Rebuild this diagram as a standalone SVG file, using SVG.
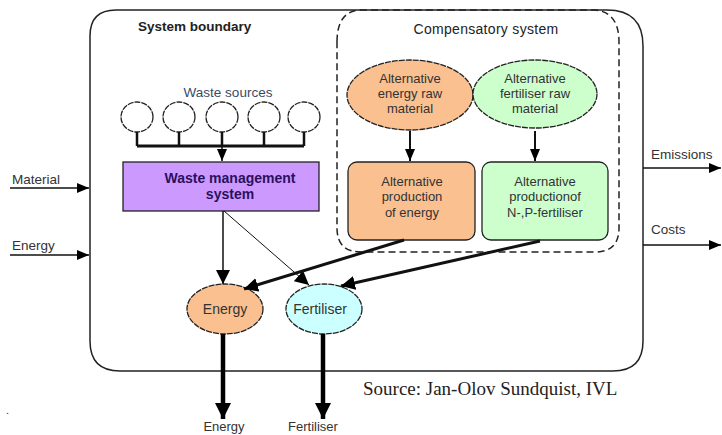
<svg xmlns="http://www.w3.org/2000/svg" width="722" height="435" viewBox="0 0 722 435">
<style>
  text { font-family: "Liberation Sans", Arial, sans-serif; fill: #333; }
  .title { font-size: 13.5px; font-weight: bold; fill: #222; }
  .lbl { font-size: 13.5px; }
  .node { font-size: 13px; text-anchor: middle; }
  .wms { font-size: 14px; font-weight: bold; text-anchor: middle; fill: #2a1060; }
  .ell { stroke: #222; stroke-width: 1.3; stroke-dasharray: 6 1; }
  .box { stroke: #222; stroke-width: 1.3; }
  .thin { stroke: #111; stroke-width: 1.5; fill: none; }
  .hair { stroke: #111; stroke-width: 1; fill: none; }
  .thick { stroke: #111; stroke-width: 3; fill: none; }
  .heavy { stroke: #000; stroke-width: 4.5; fill: none; }
</style>
<defs>
  <marker id="a" markerUnits="userSpaceOnUse" markerWidth="12" markerHeight="10" refX="12" refY="5" orient="auto">
    <path d="M0,0 L12,5 L0,10 Z" fill="#000"/>
  </marker>
  <marker id="am" markerUnits="userSpaceOnUse" markerWidth="14" markerHeight="14" refX="14" refY="7" orient="auto">
    <path d="M0,0 L14,7 L0,14 Z" fill="#000"/>
  </marker>
  <marker id="ab" markerUnits="userSpaceOnUse" markerWidth="16" markerHeight="16" refX="16" refY="8" orient="auto">
    <path d="M0,0 L16,8 L0,16 Z" fill="#000"/>
  </marker>
</defs>
<rect width="722" height="435" fill="#fff"/>

<!-- boundaries -->
<g id="system-boundary">
  <path d="M90,36 Q90,10 116,10 L607,10 Q643,10 643,46 L643,341 Q643,371 613,371 L120,371 Q90,371 90,341 Z" fill="none" stroke="#222" stroke-width="1.5"/>
  <text class="title" x="138" y="31">System boundary</text>
</g>
<g id="compensatory-system">
  <path d="M337,42 Q337,10 362,10 L595,10 Q619,12 619,42 L619,228 Q619,252 595,252 L361,252 Q337,252 337,228 Z" fill="none" stroke="#222" stroke-width="1.5" stroke-dasharray="7 4"/>
  <text class="title" x="486" y="34" text-anchor="middle" style="font-weight:normal;font-size:14px;letter-spacing:0.3px">Compensatory system</text>
</g>

<!-- waste sources -->
<g id="waste-sources">
  <text class="lbl" x="228" y="97" text-anchor="middle" style="fill:#3a4a66">Waste sources</text>
  <ellipse class="ell" cx="137" cy="117" rx="16" ry="15" fill="#fff"/>
  <ellipse class="ell" cx="179" cy="117" rx="16" ry="15" fill="#fff"/>
  <ellipse class="ell" cx="222" cy="117" rx="16" ry="15" fill="#fff"/>
  <ellipse class="ell" cx="264" cy="117" rx="16" ry="15" fill="#fff"/>
  <ellipse class="ell" cx="304" cy="117" rx="16" ry="15" fill="#fff"/>
</g>

<g id="waste-management">
  <rect class="box" x="123" y="162" width="196" height="49" fill="#cc99ff"/>
  <text class="wms" x="230" y="183">Waste management</text>
  <text class="wms" x="230" y="199">system</text>
</g>

<g id="alt-energy-raw">
  <ellipse class="ell" cx="410" cy="95" rx="63" ry="35" fill="#fac090"/>
  <text class="node" x="410" y="83">Alternative</text>
  <text class="node" x="410" y="98">energy  raw</text>
  <text class="node" x="410" y="113">material</text>
</g>
<g id="alt-fertiliser-raw">
  <ellipse class="ell" cx="535" cy="94" rx="62" ry="34" fill="#ccffcc"/>
  <text class="node" x="535" y="83">Alternative</text>
  <text class="node" x="535" y="98">fertiliser  raw</text>
  <text class="node" x="535" y="113">material</text>
</g>
<g id="alt-prod-energy">
  <rect class="box" x="348" y="162" width="127" height="78" rx="9" fill="#fac090"/>
  <text class="node" x="412" y="186">Alternative</text>
  <text class="node" x="412" y="201">production</text>
  <text class="node" x="412" y="217">of energy</text>
</g>
<g id="alt-prod-fertiliser">
  <rect class="box" x="482" y="162" width="126" height="78" rx="9" fill="#ccffcc"/>
  <text class="node" x="545" y="186">Alternative</text>
  <text class="node" x="545" y="201">productionof</text>
  <text class="node" x="545" y="217">N-,P-fertiliser</text>
</g>

<g id="energy">
  <ellipse class="ell" cx="225" cy="309" rx="38" ry="25" fill="#fac090"/>
  <text class="node" x="225" y="314" style="font-size:14px">Energy</text>
</g>
<g id="fertiliser">
  <ellipse class="ell" cx="324" cy="309" rx="38" ry="25" fill="#ccffff"/>
  <text class="node" x="320" y="314" style="font-size:14px">Fertiliser</text>
</g>

<!-- connectors -->
<g id="connectors">
  <path d="M137,132 V146 M179,132 V146 M264,132 V146 M304,132 V146 M222,132 V146" stroke="#111" stroke-width="2.5" fill="none"/>
  <path d="M137,146 H304" stroke="#111" stroke-width="3"/>
  <line class="thin" x1="222" y1="146" x2="222" y2="161" marker-end="url(#a)"/>

  <line class="thin" x1="10" y1="188" x2="89" y2="188" marker-end="url(#a)"/>
  <line class="thin" x1="10" y1="255" x2="89" y2="255" marker-end="url(#a)"/>
  <line class="thin" x1="643" y1="168" x2="721" y2="168" marker-end="url(#a)"/>
  <line class="thin" x1="643" y1="245" x2="721" y2="245" marker-end="url(#a)"/>

  <line class="thin" x1="410" y1="131" x2="410" y2="161" style="stroke-width:2" marker-end="url(#a)"/>
  <line class="thin" x1="535" y1="131" x2="535" y2="161" style="stroke-width:2" marker-end="url(#a)"/>

  <line class="thin" x1="223" y1="211" x2="223" y2="284" marker-end="url(#am)"/>
  <line class="hair" x1="224" y1="211" x2="309" y2="285" marker-end="url(#am)"/>

  <line class="thick" x1="404" y1="240" x2="244" y2="289" marker-end="url(#am)"/>
  <line class="thick" x1="540" y1="241" x2="341" y2="286" marker-end="url(#am)"/>

  <line class="heavy" x1="223" y1="334" x2="223" y2="419" marker-end="url(#ab)"/>
  <line class="heavy" x1="323" y1="334" x2="323" y2="419" marker-end="url(#ab)"/>
</g>

<!-- labels -->
<g id="labels">
  <text class="lbl" x="12" y="184">Material</text>
  <text class="lbl" x="12" y="250">Energy</text>
  <text class="lbl" x="651" y="159">Emissions</text>
  <text class="lbl" x="651" y="234">Costs</text>
  <text x="224" y="431" text-anchor="middle" style="font-size:13px">Energy</text>
  <text x="313" y="431" text-anchor="middle" style="font-size:13px">Fertiliser</text>
  <text x="363" y="395" style="font-family:'Liberation Serif','Times New Roman',serif;font-size:19px;fill:#222">Source: Jan-Olov Sundquist, IVL</text>
  <text x="6" y="414" style="font-size:11px">.</text>
</g>
</svg>
